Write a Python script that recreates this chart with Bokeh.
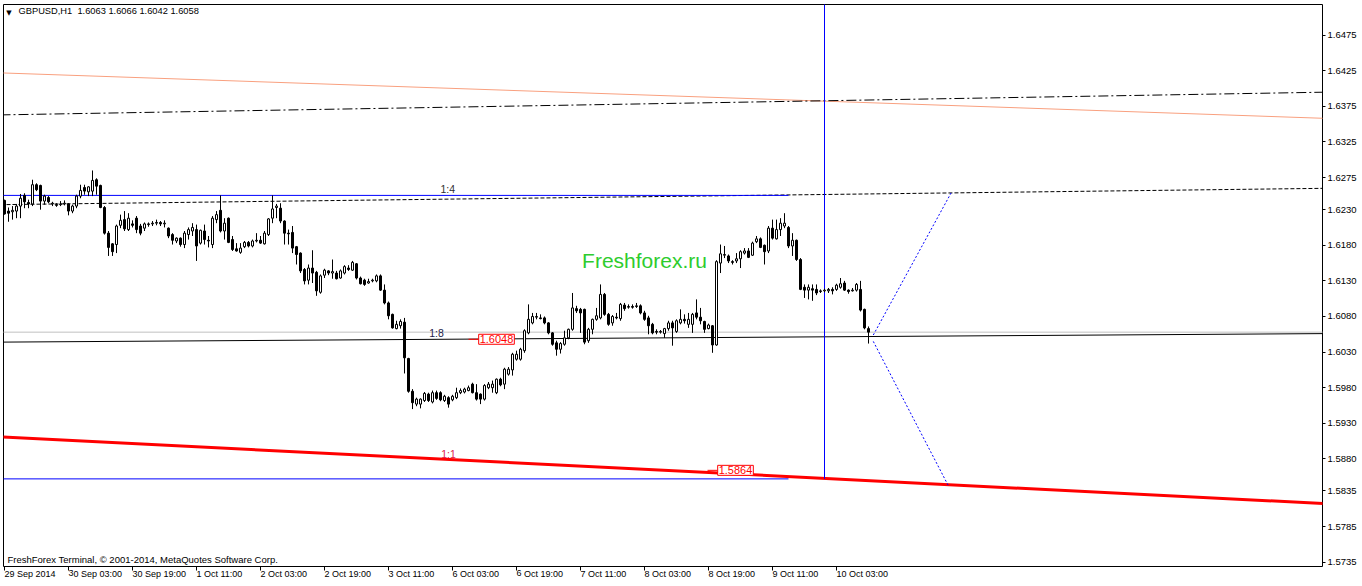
from bokeh.plotting import figure
from bokeh.models import Range1d, FixedTicker, Label, PrintfTickFormatter, ColumnDataSource
from bokeh.embed import file_html
from bokeh.resources import INLINE

# ---------------- data (GBPUSD, H1, 29 Sep 11:00 .. 10 Oct 11:00 2014) ----------------
OPEN = [1.6243, 1.6228, 1.6227, 1.6228, 1.6235, 1.6250, 1.6240, 1.6238, 1.6265, 1.6264,
        1.6242, 1.6247, 1.6238, 1.6237, 1.6237, 1.6238, 1.6238, 1.6228, 1.6235, 1.6249,
        1.6261, 1.6255, 1.6256, 1.6272, 1.6264, 1.6233, 1.6197, 1.6182, 1.6181, 1.6208,
        1.6216, 1.6202, 1.6210, 1.6218, 1.6207, 1.6204, 1.6209, 1.6210, 1.6211, 1.6212,
        1.6210, 1.6204, 1.6195, 1.6186, 1.6190, 1.6181, 1.6195, 1.6200, 1.6202, 1.6183,
        1.6200, 1.6187, 1.6181, 1.6216, 1.6229, 1.6200, 1.6218, 1.6188, 1.6175, 1.6170,
        1.6178, 1.6184, 1.6179, 1.6186, 1.6187, 1.6182, 1.6195, 1.6218, 1.6233, 1.6232,
        1.6214, 1.6197, 1.6198, 1.6178, 1.6169, 1.6146, 1.6131, 1.6148, 1.6142, 1.6114,
        1.6138, 1.6144, 1.6141, 1.6141, 1.6134, 1.6141, 1.6148, 1.6145, 1.6154, 1.6134,
        1.6131, 1.6127, 1.6130, 1.6130, 1.6137, 1.6117, 1.6099, 1.6083, 1.6063, 1.6067,
        1.6072, 1.6021, 1.5975, 1.5957, 1.5957, 1.5962, 1.5971, 1.5960, 1.5973, 1.5973,
        1.5962, 1.5966, 1.5963, 1.5966, 1.5973, 1.5974, 1.5976, 1.5985, 1.5973, 1.5971,
        1.5964, 1.5980, 1.5980, 1.5973, 1.5992, 1.5985, 1.5999, 1.6005, 1.6020, 1.6020,
        1.6032, 1.6057, 1.6071, 1.6079, 1.6078, 1.6078, 1.6071, 1.6057, 1.6043, 1.6034,
        1.6041, 1.6050, 1.6062, 1.6091, 1.6090, 1.6090, 1.6046, 1.6062, 1.6076, 1.6078,
        1.6111, 1.6083, 1.6071, 1.6079, 1.6077, 1.6096, 1.6093, 1.6094, 1.6094, 1.6095,
        1.6085, 1.6078, 1.6069, 1.6059, 1.6058, 1.6056, 1.6063, 1.6071, 1.6059, 1.6071,
        1.6076, 1.6069, 1.6069, 1.6085, 1.6079, 1.6073, 1.6063, 1.6067, 1.6040, 1.6155,
        1.6166, 1.6165, 1.6157, 1.6158, 1.6161, 1.6169, 1.6172, 1.6166, 1.6185, 1.6189,
        1.6180, 1.6172, 1.6204, 1.6189, 1.6202, 1.6207, 1.6205, 1.6179, 1.6187, 1.6160,
        1.6121, 1.6117, 1.6119, 1.6118, 1.6115, 1.6116, 1.6116, 1.6118, 1.6118, 1.6121,
        1.6127, 1.6117, 1.6116, 1.6117, 1.6118, 1.6090, 1.6063]
HIGH = [1.6244, 1.6233, 1.6235, 1.6238, 1.6252, 1.6253, 1.6244, 1.6272, 1.6267, 1.6265,
        1.6251, 1.6249, 1.6241, 1.6239, 1.6242, 1.6243, 1.6239, 1.6237, 1.6251, 1.6265,
        1.6265, 1.6263, 1.6285, 1.6274, 1.6265, 1.6235, 1.6200, 1.6183, 1.6209, 1.6223,
        1.6228, 1.6225, 1.6215, 1.6221, 1.6210, 1.6212, 1.6212, 1.6214, 1.6216, 1.6214,
        1.6215, 1.6205, 1.6197, 1.6191, 1.6191, 1.6200, 1.6205, 1.6211, 1.6209, 1.6202,
        1.6209, 1.6193, 1.6221, 1.6228, 1.6250, 1.6218, 1.6219, 1.6193, 1.6183, 1.6183,
        1.6186, 1.6186, 1.6188, 1.6197, 1.6193, 1.6200, 1.6218, 1.6250, 1.6238, 1.6239,
        1.6215, 1.6202, 1.6207, 1.6179, 1.6170, 1.6148, 1.6153, 1.6173, 1.6144, 1.6139,
        1.6147, 1.6145, 1.6160, 1.6144, 1.6146, 1.6152, 1.6152, 1.6158, 1.6155, 1.6136,
        1.6133, 1.6133, 1.6133, 1.6139, 1.6139, 1.6125, 1.6101, 1.6084, 1.6074, 1.6076,
        1.6078, 1.6022, 1.5978, 1.5966, 1.5965, 1.5974, 1.5973, 1.5976, 1.5976, 1.5975,
        1.5970, 1.5968, 1.5970, 1.5980, 1.5979, 1.5980, 1.5983, 1.5987, 1.5985, 1.5972,
        1.5985, 1.5988, 1.5990, 1.5993, 1.5994, 1.6008, 1.6009, 1.6029, 1.6032, 1.6036,
        1.6062, 1.6097, 1.6085, 1.6085, 1.6083, 1.6080, 1.6072, 1.6058, 1.6046, 1.6044,
        1.6060, 1.6063, 1.6113, 1.6095, 1.6092, 1.6091, 1.6064, 1.6077, 1.6092, 1.6125,
        1.6113, 1.6085, 1.6082, 1.6085, 1.6099, 1.6099, 1.6097, 1.6097, 1.6099, 1.6097,
        1.6088, 1.6081, 1.6071, 1.6062, 1.6061, 1.6064, 1.6074, 1.6074, 1.6076, 1.6090,
        1.6083, 1.6085, 1.6085, 1.6104, 1.6092, 1.6074, 1.6070, 1.6068, 1.6159, 1.6181,
        1.6179, 1.6167, 1.6159, 1.6169, 1.6173, 1.6176, 1.6176, 1.6185, 1.6193, 1.6191,
        1.6181, 1.6207, 1.6216, 1.6216, 1.6218, 1.6225, 1.6207, 1.6197, 1.6188, 1.6162,
        1.6125, 1.6125, 1.6125, 1.6125, 1.6118, 1.6119, 1.6120, 1.6121, 1.6126, 1.6134,
        1.6130, 1.6118, 1.6120, 1.6127, 1.6130, 1.6091, 1.6066]
LOW = [1.6223, 1.6213, 1.6216, 1.6218, 1.6218, 1.6232, 1.6232, 1.6235, 1.6256, 1.6230,
       1.6237, 1.6239, 1.6235, 1.6234, 1.6235, 1.6236, 1.6222, 1.6225, 1.6232, 1.6246,
       1.6251, 1.6249, 1.6249, 1.6251, 1.6232, 1.6195, 1.6165, 1.6165, 1.6169, 1.6204,
       1.6200, 1.6200, 1.6205, 1.6197, 1.6194, 1.6200, 1.6206, 1.6207, 1.6208, 1.6207,
       1.6205, 1.6190, 1.6181, 1.6183, 1.6178, 1.6176, 1.6188, 1.6193, 1.6158, 1.6181,
       1.6181, 1.6177, 1.6176, 1.6211, 1.6198, 1.6188, 1.6183, 1.6172, 1.6171, 1.6168,
       1.6176, 1.6177, 1.6177, 1.6184, 1.6182, 1.6181, 1.6193, 1.6211, 1.6218, 1.6211,
       1.6181, 1.6181, 1.6169, 1.6153, 1.6141, 1.6125, 1.6125, 1.6127, 1.6109, 1.6112,
       1.6134, 1.6138, 1.6133, 1.6132, 1.6133, 1.6139, 1.6144, 1.6144, 1.6132, 1.6125,
       1.6123, 1.6126, 1.6128, 1.6128, 1.6116, 1.6097, 1.6076, 1.6063, 1.6062, 1.6063,
       1.6000, 1.5973, 1.5950, 1.5954, 1.5951, 1.5960, 1.5960, 1.5958, 1.5963, 1.5961,
       1.5960, 1.5952, 1.5961, 1.5964, 1.5971, 1.5972, 1.5975, 1.5972, 1.5962, 1.5957,
       1.5962, 1.5978, 1.5973, 1.5971, 1.5982, 1.5978, 1.5997, 1.5997, 1.6018, 1.6018,
       1.6029, 1.6055, 1.6069, 1.6076, 1.6076, 1.6069, 1.6055, 1.6039, 1.6025, 1.6028,
       1.6039, 1.6048, 1.6060, 1.6085, 1.6057, 1.6041, 1.6043, 1.6055, 1.6074, 1.6076,
       1.6081, 1.6067, 1.6067, 1.6076, 1.6074, 1.6088, 1.6091, 1.6091, 1.6092, 1.6083,
       1.6074, 1.6055, 1.6055, 1.6055, 1.6056, 1.6050, 1.6060, 1.6039, 1.6057, 1.6069,
       1.6070, 1.6064, 1.6057, 1.6076, 1.6069, 1.6057, 1.6062, 1.6029, 1.6039, 1.6141,
       1.6162, 1.6155, 1.6153, 1.6155, 1.6148, 1.6167, 1.6162, 1.6165, 1.6183, 1.6176,
       1.6153, 1.6169, 1.6188, 1.6188, 1.6193, 1.6204, 1.6176, 1.6165, 1.6158, 1.6117,
       1.6106, 1.6104, 1.6102, 1.6110, 1.6113, 1.6114, 1.6113, 1.6111, 1.6116, 1.6119,
       1.6116, 1.6112, 1.6115, 1.6115, 1.6087, 1.6062, 1.6042]
CLOSE = [1.6224, 1.6225, 1.6229, 1.6235, 1.6246, 1.6241, 1.6238, 1.6265, 1.6258, 1.6242,
         1.6249, 1.6241, 1.6239, 1.6236, 1.6238, 1.6239, 1.6228, 1.6235, 1.6249, 1.6257,
         1.6256, 1.6262, 1.6271, 1.6263, 1.6233, 1.6197, 1.6177, 1.6171, 1.6207, 1.6215,
         1.6203, 1.6218, 1.6208, 1.6202, 1.6197, 1.6210, 1.6210, 1.6211, 1.6212, 1.6210,
         1.6211, 1.6193, 1.6187, 1.6190, 1.6181, 1.6197, 1.6202, 1.6205, 1.6179, 1.6201,
         1.6188, 1.6186, 1.6218, 1.6223, 1.6200, 1.6211, 1.6184, 1.6174, 1.6172, 1.6176,
         1.6184, 1.6179, 1.6186, 1.6187, 1.6183, 1.6197, 1.6217, 1.6231, 1.6235, 1.6214,
         1.6197, 1.6196, 1.6176, 1.6167, 1.6144, 1.6130, 1.6148, 1.6141, 1.6116, 1.6137,
         1.6145, 1.6141, 1.6143, 1.6133, 1.6144, 1.6150, 1.6146, 1.6156, 1.6134, 1.6126,
         1.6125, 1.6129, 1.6131, 1.6137, 1.6117, 1.6099, 1.6081, 1.6064, 1.6069, 1.6073,
         1.6022, 1.5975, 1.5959, 1.5964, 1.5964, 1.5972, 1.5962, 1.5973, 1.5965, 1.5963,
         1.5968, 1.5957, 1.5968, 1.5973, 1.5976, 1.5978, 1.5980, 1.5973, 1.5964, 1.5964,
         1.5983, 1.5985, 1.5985, 1.5992, 1.5984, 1.6006, 1.6006, 1.6027, 1.6027, 1.6034,
         1.6060, 1.6076, 1.6080, 1.6080, 1.6077, 1.6071, 1.6057, 1.6041, 1.6034, 1.6042,
         1.6050, 1.6062, 1.6092, 1.6088, 1.6085, 1.6044, 1.6062, 1.6076, 1.6081, 1.6111,
         1.6083, 1.6069, 1.6080, 1.6078, 1.6097, 1.6091, 1.6094, 1.6093, 1.6095, 1.6085,
         1.6076, 1.6067, 1.6057, 1.6058, 1.6059, 1.6063, 1.6071, 1.6064, 1.6074, 1.6076,
         1.6074, 1.6076, 1.6083, 1.6079, 1.6074, 1.6062, 1.6068, 1.6040, 1.6157, 1.6168,
         1.6167, 1.6158, 1.6156, 1.6161, 1.6171, 1.6172, 1.6163, 1.6183, 1.6189, 1.6177,
         1.6171, 1.6204, 1.6190, 1.6202, 1.6211, 1.6211, 1.6179, 1.6187, 1.6160, 1.6118,
         1.6117, 1.6121, 1.6117, 1.6113, 1.6116, 1.6117, 1.6118, 1.6116, 1.6124, 1.6126,
         1.6117, 1.6115, 1.6117, 1.6125, 1.6089, 1.6064, 1.6058]

TIME_TICK_BARS = [0, 16, 32, 48, 64, 80, 96, 112, 128, 144, 160, 176, 192, 208]
TIME_TICK_LABELS = ["29 Sep 2014", "30 Sep 03:00", "30 Sep 19:00", "1 Oct 11:00", "2 Oct 03:00",
                    "2 Oct 19:00", "3 Oct 11:00", "6 Oct 03:00", "6 Oct 19:00", "7 Oct 11:00",
                    "8 Oct 03:00", "8 Oct 19:00", "9 Oct 11:00", "10 Oct 03:00"]
PRICE_TICKS = [1.5735, 1.5785, 1.5835, 1.5880, 1.5930, 1.5980, 1.6030, 1.6080, 1.6130,
               1.6180, 1.6230, 1.6275, 1.6325, 1.6375, 1.6425, 1.6475]
BID = 1.6058

# analysis objects (bar index, price)
ORANGE_X, ORANGE_Y = [-1, 331], [1.6422, 1.6358]
DASHDOT_X, DASHDOT_Y = [-1, 331], [1.6363, 1.6395]
DASHED_X, DASHED_Y = [-1, 331], [1.6237, 1.6260]
BLUE_TOP_X, BLUE_TOP_Y = [-1, 196], [1.6250, 1.6250]
BLUE_BOT_X, BLUE_BOT_Y = [-1, 196], [1.5852, 1.5852]
BLACK_X, BLACK_Y = [-1, 331], [1.6044, 1.6056]
RED_X, RED_Y = [-1, 331], [1.5911, 1.5817]
UP_X, UP_Y = [217.2, 236.7], [1.6054, 1.6254]
DOWN_X, DOWN_Y = [217.2, 236.0], [1.6045, 1.5842]
VLINE_BAR, VLINE_FROM = 205, 1.5852
TAG_BARS = [123, 182.75]
TAG_PRICES = [1.6048, 1.5864]
TAG_TEXTS = ["1.6048", "1.5864"]

FONT = "Liberation Sans"
Y0, Y1 = 1.5729, 1.6518

p = figure(width=1362, height=586, output_backend="svg", toolbar_location=None,
           x_range=Range1d(-0.25, 329.5), y_range=Range1d(Y0, Y1),
           y_axis_location="right", min_border_left=3, min_border_top=4,
           min_border_right=40, min_border_bottom=18)
p.grid.visible = False
p.background_fill_color = "white"
p.border_fill_color = "white"
p.outline_line_color = "black"
p.outline_line_width = 1
p.outline_line_alpha = 1

xa = p.xaxis[0]
xa.ticker = FixedTicker(ticks=TIME_TICK_BARS)
xa.major_label_overrides = {b: l for b, l in zip(TIME_TICK_BARS, TIME_TICK_LABELS)}
# a tiny non-zero angle makes the axis anchor each label at its left end (terminal style)
xa.major_label_orientation = -0.0001
xa.major_tick_in = 0
xa.major_tick_out = 4
xa.minor_tick_out = 0
xa.minor_tick_in = 0
xa.axis_line_color = None
xa.major_tick_line_color = "black"
xa.major_label_standoff = 3
xa.major_label_text_font = FONT
xa.major_label_text_font_size = "9px"
xa.major_label_text_color = "black"

ya = p.yaxis[0]
ya.ticker = FixedTicker(ticks=PRICE_TICKS)
ya.formatter = PrintfTickFormatter(format="%.4f")
ya.major_tick_in = 0
ya.major_tick_out = 3
ya.minor_tick_out = 0
ya.minor_tick_in = 0
ya.axis_line_color = None
ya.major_label_standoff = 2
ya.major_label_text_font = FONT
ya.major_label_text_font_size = "9.5px"
ya.major_label_text_color = "black"

# analysis lines
p.line(ORANGE_X, ORANGE_Y, line_color="#F9A07F", line_width=1)
p.line(DASHDOT_X, DASHDOT_Y, line_color="black", line_width=1, line_dash="10 3 2 3")
p.line(DASHED_X, DASHED_Y, line_color="black", line_width=1, line_dash="4 2")
p.line(BLUE_TOP_X, BLUE_TOP_Y, line_color="#0000FF", line_width=1)
p.line(BLUE_BOT_X, BLUE_BOT_Y, line_color="#0000FF", line_width=1)
p.line([-1, 331], [BID, BID], line_color="#C0C0C0", line_width=1)
p.line(BLACK_X, BLACK_Y, line_color="black", line_width=1)
p.line(RED_X, RED_Y, line_color="#FF0000", line_width=3)
p.line(UP_X, UP_Y, line_color="#0000FF", line_width=1, line_dash="2 2")
p.line(DOWN_X, DOWN_Y, line_color="#0000FF", line_width=1, line_dash="2 2")
p.segment(x0=[VLINE_BAR], y0=[VLINE_FROM], x1=[VLINE_BAR], y1=[1.66], line_color="#0000FF", line_width=1)

# candles
bars = list(range(len(OPEN)))
src = ColumnDataSource(dict(
    x=bars, o=OPEN, h=HIGH, l=LOW, c=CLOSE,
    top=[max(a, b) for a, b in zip(OPEN, CLOSE)],
    bot=[min(a, b) for a, b in zip(OPEN, CLOSE)],
    fill=["white" if c >= o else "black" for o, c in zip(OPEN, CLOSE)],
))
p.segment(x0="x", y0="l", x1="x", y1="h", source=src, line_color="black", line_width=1)
p.vbar(x="x", width=0.5, top="top", bottom="bot", source=src,
       fill_color="fill", line_color="black", line_width=1)

# price tag markers
for b, pr, t in zip(TAG_BARS, TAG_PRICES, TAG_TEXTS):
    p.segment(x0=[b - 7], y0=[pr], x1=[b - 4.5], y1=[pr], line_color="#FF0000", line_width=1)
    p.add_layout(Label(x=b, y=pr, text=t, text_align="center", text_baseline="middle",
                       text_font=FONT, text_font_size="11px", text_color="#FF0000",
                       border_line_color="#FF0000", border_line_width=1,
                       background_fill_color="white", padding=1))

# ratio labels
p.add_layout(Label(x=110.8, y=BLUE_TOP_Y[0], text="1:4", text_align="center", text_baseline="bottom",
                   y_offset=0, text_font=FONT, text_font_size="10.5px", text_color="#303030"))
p.add_layout(Label(x=108, y=1.6048, text="1:8", text_align="center", text_baseline="bottom",
                   y_offset=0, text_font=FONT, text_font_size="10.5px", text_color="#202048"))
p.add_layout(Label(x=111, y=1.5879, text="1:1", text_align="center", text_baseline="bottom",
                   y_offset=0, text_font=FONT, text_font_size="10.5px", text_color="#E0204A"))

p.add_layout(Label(x=160, y=1.6159, text="Freshforex.ru", text_align="center", text_baseline="middle",
                   text_font=FONT, text_font_size="21px", text_color="#2ECC2E"))

# header and footer texts
p.add_layout(Label(x=1.1, y=Y1, text="\u25BC", text_align="center", text_baseline="top",
                   y_offset=-4, text_font="DejaVu Sans", text_font_size="7px", text_color="black"))
p.add_layout(Label(x=3.5, y=Y1, text="GBPUSD,H1\u00a0\u00a01.6063 1.6066 1.6042 1.6058",
                   text_align="left", text_baseline="top", y_offset=-1,
                   text_font=FONT, text_font_size="9.3px", text_color="black"))
p.add_layout(Label(x=0.75, y=Y0, text="FreshForex Terminal, \u00a9 2001-2014, MetaQuotes Software Corp.",
                   text_align="left", text_baseline="bottom", y_offset=2,
                   text_font=FONT, text_font_size="9.5px", text_color="black"))

# bid price box on the axis
p.add_layout(Label(x=329.5, y=BID, text="1.6058", text_align="left", text_baseline="middle",
                   x_offset=1, text_font=FONT, text_font_size="10px", text_color="white",
                   background_fill_color="black", padding=1))

open("out.html", "w").write(file_html(p, INLINE))
